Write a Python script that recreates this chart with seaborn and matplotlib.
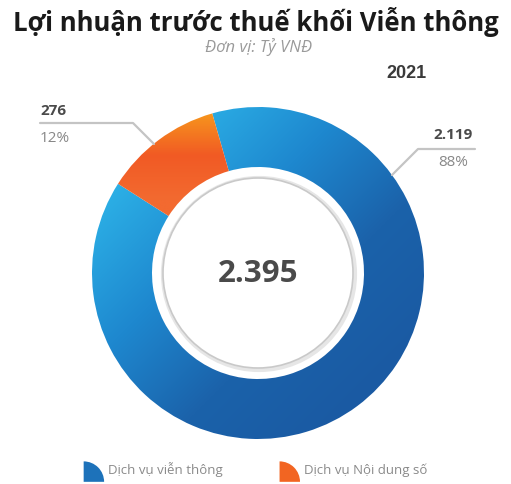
import numpy as np
import matplotlib
matplotlib.use("Agg")
import matplotlib.pyplot as plt
import seaborn as sns
from matplotlib.colors import LinearSegmentedColormap
from matplotlib.patches import Wedge, Circle, Patch
from matplotlib.legend_handler import HandlerPatch

# ---------------- data ----------------
categories = ["Dịch vụ viễn thông", "Dịch vụ Nội dung số"]
values = [2119, 276]
value_labels = ["2.119", "276"]
pct_labels = ["88%", "12%"]
total_label = "2.395"
year_label = "2021"
title = "Lợi nhuận trước thuế khối Viễn thông"
subtitle = "Đơn vị: Tỷ VNĐ"

# ---------------- style ----------------
sns.set_theme(style="white")
plt.rcParams['font.family'] = ['Open Sans', 'DejaVu Sans']

blue_cmap = LinearSegmentedColormap.from_list("b", ["#2CB0E6", "#1E88CF", "#1B62AA", "#1A5AA3"])
orange_cmap = LinearSegmentedColormap.from_list("o", ["#F7981D", "#F15A24", "#F36A30"])
legend_colors = ["#1D72BA", "#F26522"]

W, H = 511, 485
fig = plt.figure(figsize=(W / 100, H / 100), dpi=100)
ax = fig.add_axes([0, 0, 1, 1])

cx, cy, R, r_in = 258, H - 274, 166, 106
wedges, _ = ax.pie(values, center=(cx, cy), radius=R, startangle=106,
                   counterclock=False, frame=True,
                   wedgeprops=dict(width=R - r_in, linewidth=0))

n = 400
gx = np.linspace(cx - R, cx + R, n)
gy = np.linspace(cy - R, cy + R, n)
X, Y = np.meshgrid(gx, gy)
# blue: light at top-left, dark at bottom-right
Tb = ((X - cx) - (Y - cy))
Tb = (Tb - Tb.min()) / (Tb.max() - Tb.min())
Tb = np.clip((Tb - 0.15) / 0.7, 0, 1)
# orange: vertical gradient over its band
ys = H - Y
To = np.clip((ys - 112) / (200 - 112), 0, 1)

for w, T, cm in [(wedges[0], Tb, blue_cmap), (wedges[1], To, orange_cmap)]:
    im = ax.imshow(T, extent=(cx - R, cx + R, cy - R, cy + R), origin='lower',
                   cmap=cm, vmin=0, vmax=1, interpolation='bilinear', zorder=1)
    im.set_clip_path(w)
    w.set_facecolor('none')

# inner ring decoration
ax.add_patch(Circle((cx + 1, cy - 1), 96, facecolor='none', edgecolor='#E6E6E6', lw=3, zorder=2))
ax.add_patch(Circle((cx, cy), 95, facecolor='white', edgecolor='#C9C9C9', lw=1.2, zorder=3))

ax.set_xlim(0, W)
ax.set_ylim(0, H)
ax.set_aspect('equal')
ax.axis('off')

# center total
ax.text(cx, cy, total_label, ha='center', va='center', fontsize=22.5,
        fontweight='bold', color='#4A4A4A', zorder=5)

# leader lines and labels
lc = '#C4C4C4'
# orange label (left)
ax.plot([40, 133, 154], [H - 124, H - 124, H - 145], color=lc, lw=1.6, zorder=4)
ax.text(40, H - 111, value_labels[1], ha='left', va='center', fontsize=11,
        fontweight='bold', color='#4A4A4A')
ax.text(40, H - 138, pct_labels[1], ha='left', va='center', fontsize=11, color='#888888')
# blue label (right)
ax.plot([392, 418, 475], [H - 176, H - 150, H - 150], color=lc, lw=1.6, zorder=4)
ax.text(453, H - 135, value_labels[0], ha='center', va='center', fontsize=11,
        fontweight='bold', color='#4A4A4A')
ax.text(453, H - 163, pct_labels[0], ha='center', va='center', fontsize=11, color='#888888')

# titles
fig.text(256 / W, 1 - 22 / H, title, ha='center', va='center', fontsize=18.5,
         fontweight='bold', color='#1A1A1A')
fig.text(259 / W, 1 - 47 / H, subtitle, ha='center', va='center', fontsize=12,
         style='italic', color='#9A9A9A')
fig.text(406 / W, 1 - 74 / H, year_label, ha='center', va='center', fontsize=13,
         fontweight='bold', color='#3A3A3A', family=['Liberation Sans', 'DejaVu Sans'])


# legend with quarter-circle markers
class HandlerQuarter(HandlerPatch):
    def create_artists(self, legend, orig_handle, xdescent, ydescent, width, height, fontsize, trans):
        rr = width
        p = Wedge((-xdescent, -ydescent - 5), rr, 0, 90,
                  facecolor=orig_handle.get_facecolor(), edgecolor='none', transform=trans)
        return [p]


handles = [Patch(facecolor=c) for c in legend_colors]
leg = fig.legend(handles, categories, loc='center', bbox_to_anchor=(0.5, 1 - 470 / H),
                 ncol=2, frameon=False, fontsize=9.5, handlelength=1.55, handleheight=1.0,
                 handletextpad=0.3, columnspacing=4.3,
                 handler_map={Patch: HandlerQuarter()})
for t in leg.get_texts():
    t.set_color('#8A8A8A')

fig.savefig("out.png", dpi=100)
